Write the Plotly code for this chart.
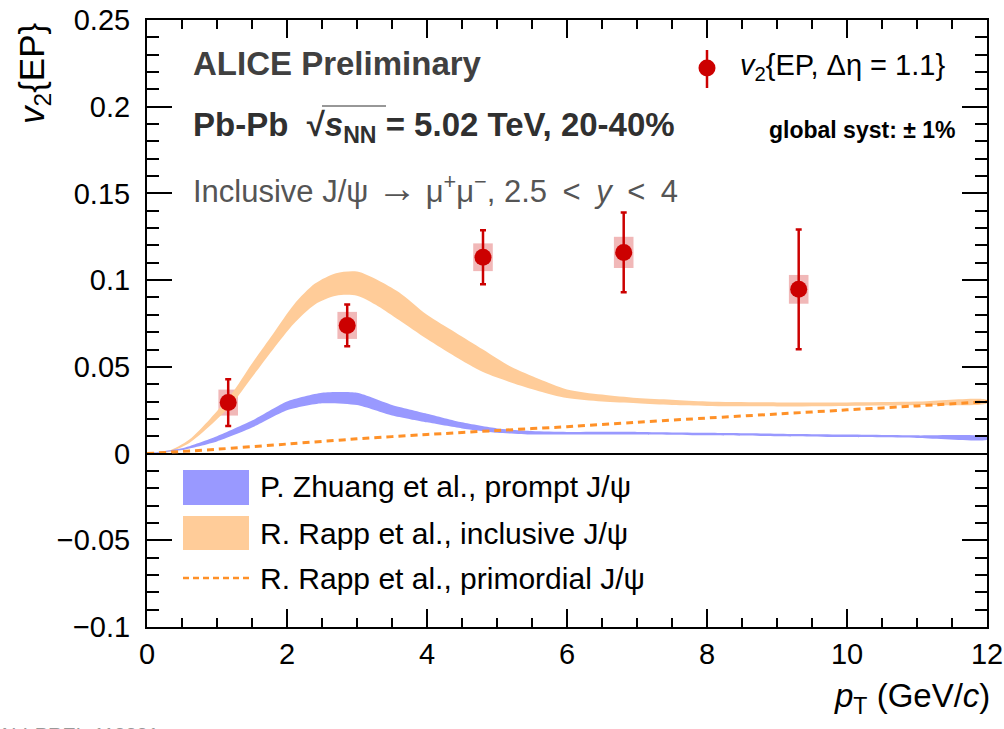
import plotly.graph_objects as go

# ---------------- data ----------------
pt = [1.16, 2.86, 4.80, 6.81, 9.31]
v2 = [0.0294, 0.0739, 0.1132, 0.1160, 0.0947]
v2_stat = [0.0135, 0.0120, 0.0155, 0.0230, 0.0345]
v2_syst = [0.0075, 0.0078, 0.0080, 0.0090, 0.0083]
syst_halfwidth = 0.14

rapp_pt = [0.0, 0.3, 0.6, 0.9, 1.2, 1.5, 1.8, 2.1, 2.4, 2.7, 3.0, 3.3, 3.6, 4.0, 4.4,
           4.8, 5.2, 5.6, 6.0, 6.5, 7.0, 7.5, 8.0, 9.0, 10.0, 11.0, 12.0]
rapp_lo = [0.0, 0.0008, 0.006, 0.016, 0.028, 0.044, 0.060, 0.075, 0.086, 0.091, 0.091,
           0.085, 0.077, 0.066, 0.056, 0.047, 0.041, 0.036, 0.032, 0.030, 0.029, 0.028,
           0.0275, 0.0272, 0.0275, 0.028, 0.029]
rapp_hi = [0.0, 0.0015, 0.008, 0.020, 0.034, 0.052, 0.069, 0.086, 0.098, 0.104, 0.105,
           0.100, 0.093, 0.080, 0.070, 0.060, 0.050, 0.043, 0.037, 0.034, 0.032, 0.031,
           0.030, 0.0295, 0.0295, 0.030, 0.031]

zhuang_pt = [0.0, 0.5, 1.0, 1.5, 2.0, 2.5, 3.0, 3.5, 4.0, 4.5, 5.0, 5.5, 6.0, 7.0, 8.0,
             9.0, 10.0, 11.0, 12.0]
zhuang_lo = [0.0, 0.002, 0.007, 0.015, 0.025, 0.029, 0.028, 0.022, 0.018, 0.0145, 0.012,
             0.011, 0.011, 0.011, 0.0105, 0.010, 0.0095, 0.009, 0.008]
zhuang_hi = [0.0, 0.003, 0.010, 0.019, 0.030, 0.035, 0.035, 0.028, 0.023, 0.018, 0.0145,
             0.013, 0.0125, 0.0125, 0.012, 0.0115, 0.011, 0.0105, 0.0098]

prim_pt = [0, 1, 2, 3, 4, 5, 6, 7, 8, 9, 10, 11, 12]
prim_v2 = [0.0, 0.0025, 0.0055, 0.0085, 0.011, 0.0133, 0.0155, 0.018, 0.0205, 0.0228,
           0.0252, 0.0275, 0.030]

x_ticks = [0, 2, 4, 6, 8, 10, 12]
y_ticks = [-0.1, -0.05, 0, 0.05, 0.1, 0.15, 0.2, 0.25]
y_ticktext = ["\u22120.1", "\u22120.05", "0", "0.05", "0.1", "0.15", "0.2", "0.25"]

# ---------------- style ----------------
FONT = "Liberation Sans, Arial, Helvetica, sans-serif"
RED = "#CC0000"
BLUE_FILL = "rgb(153,153,255)"
ORANGE_FILL = "rgb(255,204,153)"
ORANGE_LINE = "rgb(255,145,40)"

W, H = 1004, 729
L, R, T, B = 147, 987, 20, 627


def px(x):
    return (x - L) / (R - L)


def py(y):
    return (B - y) / (B - T)


fig = go.Figure()

# Rapp inclusive band
fig.add_trace(go.Scatter(x=rapp_pt + rapp_pt[::-1], y=rapp_hi + rapp_lo[::-1],
                         fill="toself", fillcolor=ORANGE_FILL, mode="lines",
                         line=dict(width=0, color=ORANGE_FILL, shape="spline",
                                   smoothing=0.8),
                         showlegend=False, hoverinfo="skip"))
# Zhuang prompt band
fig.add_trace(go.Scatter(x=zhuang_pt + zhuang_pt[::-1], y=zhuang_hi + zhuang_lo[::-1],
                         fill="toself", fillcolor=BLUE_FILL, mode="lines",
                         line=dict(width=0, color=BLUE_FILL, shape="spline",
                                   smoothing=0.6),
                         showlegend=False, hoverinfo="skip"))
# primordial dashed
fig.add_trace(go.Scatter(x=prim_pt, y=prim_v2, mode="lines",
                         line=dict(color=ORANGE_LINE, width=3, dash="7px,5px",
                                   shape="spline", smoothing=0.5),
                         showlegend=False))

# systematic boxes
fig.add_trace(go.Bar(x=pt, y=[2 * s for s in v2_syst],
                     base=[v - s for v, s in zip(v2, v2_syst)],
                     width=[2 * syst_halfwidth] * len(pt),
                     marker=dict(color="rgba(204,0,0,0.28)", line=dict(width=0)),
                     showlegend=False))

# data points
fig.add_trace(go.Scatter(x=pt, y=v2, mode="markers",
                         marker=dict(color=RED, size=17, symbol="circle"),
                         error_y=dict(type="data", array=v2_stat, color=RED,
                                      thickness=2.5, width=3),
                         showlegend=False))

axis_common = dict(showline=True, linecolor="black", linewidth=2, mirror="allticks",
                   ticks="inside", tickcolor="black", tickwidth=2, showgrid=False,
                   automargin=False,
                   tickfont=dict(family=FONT, size=29, color="black"))

fig.update_xaxes(range=[0, 12], tickvals=x_ticks, ticklen=18,
                 minor=dict(dtick=0.5, ticklen=9, tickwidth=2, tickcolor="black",
                            ticks="inside", showgrid=False),
                 zeroline=False, **axis_common)
fig.update_yaxes(range=[-0.1, 0.25], tickvals=y_ticks, ticktext=y_ticktext, ticklen=25,
                 minor=dict(dtick=0.01, ticklen=12, tickwidth=2, tickcolor="black",
                            ticks="inside", showgrid=False),
                 zeroline=True, zerolinecolor="black", zerolinewidth=2,
                 ticklabelstandoff=9, **axis_common)

annotations = []


def text(x, y, s, size, color="black", xanchor="left", yanchor="middle", angle=0):
    annotations.append(dict(x=px(x), y=py(y), xref="paper", yref="paper", text=s,
                            showarrow=False, xanchor=xanchor, yanchor=yanchor,
                            textangle=angle,
                            font=dict(family=FONT, size=size, color=color)))


SP = "\u2002"
text(191, 64, "<b>ALICE Preliminary</b>", 33, color="#404040")
text(191, 127, "<b>Pb-Pb  \u221A<i>s</i><sub>NN</sub> = 5.02 TeV, 20-40%</b>", 33,
     color="#303030")
text(191, 188,
     "Inclusive J/\u03C8 <span style='font-size:40px'>\u2192</span> "
     "\u03BC<sup>+</sup>\u03BC<sup>\u2212</sup>, 2.5" + SP + "&lt;" + SP + "<i>y</i>"
     + SP + "&lt;" + SP + "4",
     31, color="#555555")
text(738, 67, "<i>v</i><sub>2</sub>{EP, \u0394\u03B7 = 1.1}", 29)
text(957, 130, "<b>global syst: \u00B1 1%</b>", 23, xanchor="right")

text(258, 487, "P. Zhuang et al., prompt J/\u03C8", 30)
text(258, 533, "R. Rapp et al., inclusive J/\u03C8", 30)
text(258, 578, "R. Rapp et al., primordial J/\u03C8", 30)

text(34, 73, "<i>v</i><sub>2</sub>{EP}", 35, xanchor="center", angle=-90)
text(992, 698, "<i>p</i><sub>T</sub> (GeV/<i>c</i>)", 33, xanchor="right")
text(-4, 722, "ALI-PREL-118831", 20, color="#999999", yanchor="top")

shapes = []
# legend symbols
shapes.append(dict(type="rect", xref="paper", yref="paper", x0=px(183), x1=px(249),
                   y0=py(470), y1=py(505), fillcolor=BLUE_FILL, line=dict(width=0)))
shapes.append(dict(type="rect", xref="paper", yref="paper", x0=px(183), x1=px(249),
                   y0=py(516), y1=py(550), fillcolor=ORANGE_FILL, line=dict(width=0)))
shapes.append(dict(type="line", xref="paper", yref="paper", x0=px(183), x1=px(249),
                   y0=py(578), y1=py(578),
                   line=dict(color=ORANGE_LINE, width=2.5, dash="6px,4px")))
shapes.append(dict(type="line", xref="paper", yref="paper", x0=px(707), x1=px(707),
                   y0=py(50), y1=py(88), line=dict(color=RED, width=2.5)))
shapes.append(dict(type="circle", xref="paper", yref="paper", x0=px(698.5), x1=px(715.5),
                   y0=py(59.5), y1=py(76.5), fillcolor=RED, line=dict(width=0)))
# sqrt overline
shapes.append(dict(type="line", xref="paper", yref="paper", x0=px(322), x1=px(386),
                   y0=py(106), y1=py(106), line=dict(color="#303030", width=1)))

fig.update_layout(width=W, height=H, margin=dict(l=L, r=W - R, t=T, b=H - B),
                  paper_bgcolor="white", plot_bgcolor="white", barmode="overlay",
                  showlegend=False, annotations=annotations, shapes=shapes,
                  font=dict(family=FONT))

fig.write_html("out.html")
